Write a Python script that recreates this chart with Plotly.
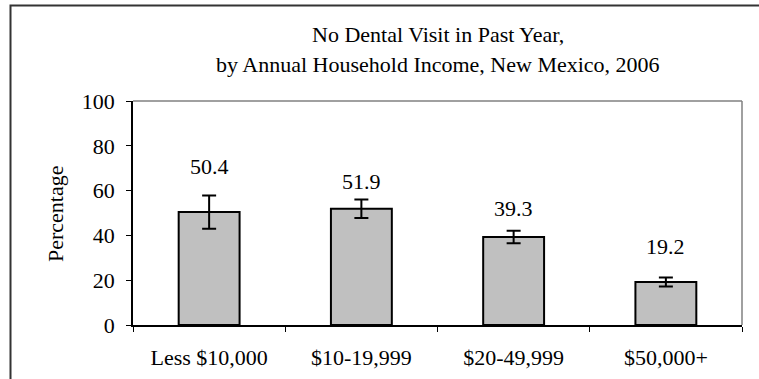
import plotly.graph_objects as go

# Share of adults with no dental visit in the past year, by income group
categories = ["Less $10,000", "$10-19,999", "$20-49,999", "$50,000+"]
percentages = [50.4, 51.9, 39.3, 19.2]
ci_half_width = [7.4, 4.1, 2.8, 2.0]
y_ticks = [0, 20, 40, 60, 80, 100]

# Vertical placement of the value labels above each bar (data units)
label_lift = [20.5, 12.2, 12.6, 15.8]

FONT = "Liberation Serif"
W, H = 759, 379
M_L, M_R, M_T, M_B = 133, 17, 101, 54
plot_w = W - M_L - M_R
plot_h = H - M_T - M_B


def px_x(px):
    return (px - M_L) / plot_w


def px_y(py):
    return (H - M_B - py) / plot_h


fig = go.Figure()
fig.add_trace(go.Bar(
    x=categories,
    y=percentages,
    width=0.4,
    marker=dict(color="#c0c0c0", line=dict(color="#000000", width=2)),
    error_y=dict(type="data", array=ci_half_width, visible=True,
                 color="#000000", thickness=2, width=7),
    hoverinfo="x+y",
))

annotations = []
for cat, val, lift in zip(categories, percentages, label_lift):
    annotations.append(dict(
        x=cat, y=val + lift, xref="x", yref="y", text=f"{val:.1f}",
        showarrow=False, xanchor="center", yanchor="middle",
        font=dict(family=FONT, size=22, color="#000000"),
    ))

annotations += [
    dict(x=0.5, y=px_y(34), xref="paper", yref="paper",
         text="No Dental Visit in Past Year,", showarrow=False,
         xanchor="center", yanchor="middle",
         font=dict(family=FONT, size=22, color="#000000")),
    dict(x=0.5, y=px_y(65), xref="paper", yref="paper",
         text="by Annual Household Income, New Mexico, 2006", showarrow=False,
         xanchor="center", yanchor="middle",
         font=dict(family=FONT, size=22, color="#000000")),
    dict(x=px_x(55), y=px_y(214), xref="paper", yref="paper",
         text="Percentage", showarrow=False, textangle=-90,
         xanchor="center", yanchor="middle",
         font=dict(family=FONT, size=22, color="#000000")),
]

shapes = [
    # outer chart frame
    dict(type="rect", xref="paper", yref="paper",
         x0=px_x(10.5), x1=px_x(770), y0=px_y(400), y1=px_y(5.5),
         line=dict(color="#333333", width=2), fillcolor="rgba(0,0,0,0)",
         layer="below"),
    # grey top and right edges of the plot area
    dict(type="line", xref="paper", yref="paper", x0=0, x1=1, y0=1, y1=1,
         line=dict(color="#808080", width=1.5)),
    dict(type="line", xref="paper", yref="paper", x0=1, x1=1, y0=0, y1=1,
         line=dict(color="#808080", width=1.5)),
]

fig.update_layout(
    width=W, height=H,
    margin=dict(l=M_L, r=M_R, t=M_T, b=M_B, pad=0, autoexpand=False),
    paper_bgcolor="#ffffff", plot_bgcolor="#ffffff",
    showlegend=False,
    annotations=annotations,
    shapes=shapes,
    font=dict(family=FONT, size=22, color="#000000"),
)
fig.update_xaxes(
    type="category", showgrid=False, zeroline=False, automargin=False,
    showline=True, linecolor="#000000", linewidth=1.5,
    ticks="outside", tickson="boundaries", ticklen=5, tickwidth=1.2,
    tickcolor="#000000", ticklabelstandoff=12,
    tickfont=dict(family=FONT, size=22, color="#000000"),
)
fig.update_yaxes(
    range=[0, 100], tickvals=y_ticks, showgrid=False, zeroline=False,
    automargin=False,
    showline=True, linecolor="#000000", linewidth=1.5,
    ticks="outside", ticklen=5, tickwidth=1.2, tickcolor="#000000",
    ticklabelstandoff=7,
    tickfont=dict(family=FONT, size=22, color="#000000"),
)

fig.write_html("out.html")
